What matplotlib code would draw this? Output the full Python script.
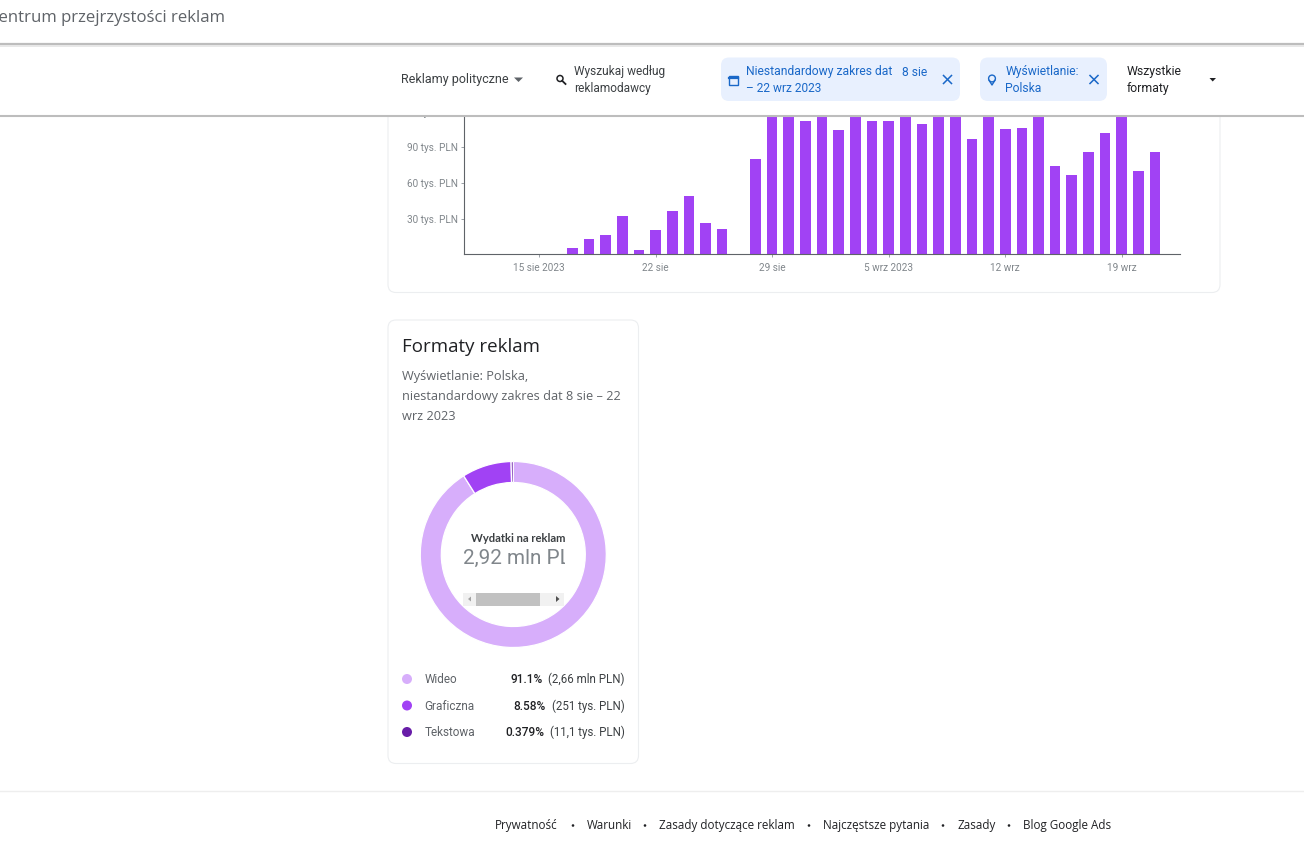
import numpy as np
import matplotlib
matplotlib.use("Agg")
import matplotlib.pyplot as plt
import matplotlib.dates as mdates
from matplotlib.patches import FancyBboxPatch, Rectangle, Circle, Polygon

W, H = 1304, 867
plt.rcParams['font.family'] = ['Roboto', 'DejaVu Sans']

# daily spend, thousand PLN (bars above 116k are hidden under the header, those are guesses)
days = np.arange(np.datetime64('2023-08-15'), np.datetime64('2023-09-23'))
spend = [0, 0, 5.3, 12.9, 16.5, 32.5, 3.6, 20.5, 36.4, 49, 26, 21.3, 0, 80,
         125, 125, 112, 125, 104.5, 125, 112, 112, 125, 109.2, 125, 125,
         96.9, 125, 105, 105.9, 125, 73.9, 66.4, 85.7, 101.6, 125, 69.8, 86.3, 0]
y_ticks = [30, 60, 90]
y_labels = ['30 tys. PLN', '60 tys. PLN', '90 tys. PLN']
x_tick_days = ['2023-08-15', '2023-08-22', '2023-08-29', '2023-09-05', '2023-09-12', '2023-09-19']
x_labels = ['15 sie 2023', '22 sie', '29 sie', '5 wrz 2023', '12 wrz', '19 wrz']

formats = ['Wideo', 'Graficzna', 'Tekstowa']
shares = [91.1, 8.58, 0.379]
share_labels = ['91.1%', '8.58%', '0.379%']
amounts = ['(2,66 mln PLN)', '(251 tys. PLN)', '(11,1 tys. PLN)']
colors = ['#d7aefb', '#a142f4', '#681da8']

footer = ['Prywatność', 'Warunki', 'Zasady dotyczące reklam', 'Najczęstsze pytania', 'Zasady', 'Blog Google Ads']
footer_x = [495, 587, 659, 823, 957, 1023]
footer_dots = [573, 645, 809, 943, 1009]

GREY = '#80868b'
TEXT = '#3c4043'
BLUE = '#1a68c8'
HEAD = 'Open Sans'


def box(l, t, r, b):
    return [l / W, 1 - b / H, (r - l) / W, (b - t) / H]


def pixel_axes(z):
    a = fig.add_axes([0, 0, 1, 1], zorder=z)
    a.set_xlim(0, W)
    a.set_ylim(H, 0)
    a.axis('off')
    a.patch.set_alpha(0)
    return a


def rounded(a, l, t, r, b, rad, fc, ec='none', lw=0.8):
    a.add_patch(FancyBboxPatch((l + rad, t + rad), r - l - 2 * rad, b - t - 2 * rad,
                               boxstyle=f'round,pad={rad},rounding_size={rad}',
                               fc=fc, ec=ec, lw=lw))


fig = plt.figure(figsize=(W / 100, H / 100), dpi=100, facecolor='white')

# page content under the header
page = pixel_axes(0)
rounded(page, 388, 90, 1220, 292.5, 8, 'white', '#eceef0')
rounded(page, 388, 320, 638.5, 763.5, 8, 'white', '#eceef0')
page.plot([0, W], [791, 791], color='#eeeeee', lw=1)
page.text(458, 113.5, '120 tys. PLN', ha='right', va='center', fontsize=7.2, color=GREY)

page.text(401.5, 347, 'Formaty reklam', fontsize=13.5, color='#202124', va='center', family=[HEAD, 'DejaVu Sans'])
sub = ['Wyświetlanie: Polska,', 'niestandardowy zakres dat 8 sie – 22', 'wrz 2023']
for i, line in enumerate(sub):
    page.text(401.5, 376.5 + i * 19.8, line, fontsize=9.2, color='#5f6368', va='center', family=[HEAD, 'DejaVu Sans'])

# bars
ax = fig.add_axes(box(464, 116, 1179.8, 254.3), zorder=1)
ax.bar(days, spend, width=0.64, color='#a142f4')
d0 = mdates.date2num(np.datetime64('2023-08-15'))
ax.set_xlim(d0 - 75 / 16.65, d0 + 640.8 / 16.65)
ax.set_ylim(0, 116.2)
ax.set_yticks(y_ticks, y_labels)
ax.set_xticks([mdates.date2num(np.datetime64(d)) for d in x_tick_days], x_labels)
ax.tick_params(axis='y', length=2.5, width=0.7, color='#9aa0a6', labelsize=7.2, labelcolor=GREY, pad=2)
ax.tick_params(axis='x', length=2, width=0.7, color='#9aa0a6', labelsize=7.2, labelcolor=GREY, pad=4.5)
for s in ['top', 'right']:
    ax.spines[s].set_visible(False)
for s in ['left', 'bottom']:
    ax.spines[s].set_color('#5f6368')
    ax.spines[s].set_linewidth(0.8)

# donut
dax = fig.add_axes(box(513.3 - 93, 554.5 - 93, 513.3 + 93, 554.5 + 93), zorder=1)
dax.pie(shares, colors=colors, startangle=90, counterclock=False, radius=1,
        wedgeprops=dict(width=21 / 93, edgecolor='white', linewidth=0.9))
dax.set_xlim(-1, 1)
dax.set_ylim(-1, 1)

over = pixel_axes(2)
clip = Rectangle((440, 520), 125, 60, transform=over.transData)
t1 = over.text(471, 538, 'Wydatki na reklamy', fontsize=8.1, fontweight='bold', color=TEXT,
               va='center', family=['Lato', 'DejaVu Sans'])
t2 = over.text(463, 558.8, '2,92 mln PLN', fontsize=14.9, color=GREY, va='center')
t1.set_clip_path(clip)
t2.set_clip_path(clip)
t1.set_clip_on(True)
t2.set_clip_on(True)
over.add_patch(Rectangle((463, 592.5), 101, 13, fc='#f1f1f1', ec='none'))
over.add_patch(Rectangle((476, 592.5), 64, 13, fc='#c1c1c1', ec='none'))
over.add_patch(Polygon([[471, 596.5], [471, 601.5], [468, 599]], fc='#a3a3a3', ec='none'))
over.add_patch(Polygon([[556, 596], [556, 602], [559.5, 599]], fc='#505050', ec='none'))

# legend rows
row_y = [679, 705.5, 732]
pct_right = [542.5, 545.5, 544]
for name, c, pct, amt, y, pr in zip(formats, colors, share_labels, amounts, row_y, pct_right):
    over.add_patch(Circle((407, y), 5, fc=c, ec='none'))
    over.text(424.5, y + 0.6, name, fontsize=8.5, color='#5f6368', va='center')
    over.text(pr, y + 0.6, pct, fontsize=8.6, color='#202124', va='center', ha='right', fontweight='medium')
    over.text(625, y + 0.6, amt, fontsize=8.3, color=TEXT, va='center', ha='right')

# footer
for label, x in zip(footer, footer_x):
    over.text(x, 825.5, label, fontsize=8.4, color='#202124', va='center', family=[HEAD, 'DejaVu Sans'])
for x in footer_dots:
    over.add_patch(Circle((x, 825.5), 1.3, fc='#202124', ec='none'))

# header bars
top = pixel_axes(3)
top.add_patch(Rectangle((0, 0), W, 43, fc='white', ec='none'))
top.add_patch(Rectangle((0, 43), W, 73, fc='white', ec='none'))
for y, lw, c in [(44, 1.6, '#bdbdbd'), (45.8, 1.2, '#e4e4e4'), (115.6, 1.5, '#bdbdbd')]:
    top.plot([0, W], [y, y], color=c, lw=lw, solid_capstyle='butt')
top.text(-12, 18, 'Centrum przejrzystości reklam', fontsize=12.05, color='#5f6368', va='center',
         family=[HEAD, 'DejaVu Sans'], clip_on=True)

top.text(401, 80, 'Reklamy polityczne', fontsize=9.0, color=TEXT, va='center')
top.add_patch(Polygon([[514, 77.5], [523, 77.5], [518.5, 82]], fc='#5f6368', ec='none'))

# search icon
top.add_patch(Circle((560, 78.5), 3, fc='none', ec='#202124', lw=1.1))
top.plot([562.2, 565.5], [80.8, 84], color='#202124', lw=1.3)
top.text(574, 72, 'Wyszukaj według', fontsize=8.6, color=TEXT, va='center')
top.text(574, 88.5, 'reklamodawcy', fontsize=8.6, color=TEXT, va='center')

# date chip
rounded(top, 721, 57.5, 960, 101, 8, '#e8f0fe')
top.add_patch(Rectangle((729, 76), 9, 9, fc='none', ec=BLUE, lw=1))
top.plot([729, 738], [77.5, 77.5], color=BLUE, lw=1.6)
top.text(746, 72, 'Niestandardowy zakres dat', fontsize=8.7, color=BLUE, va='center')
top.text(902, 72, '8 sie', fontsize=8.7, color=BLUE, va='center')
top.text(746, 88.5, '– 22 wrz 2023', fontsize=8.6, color=BLUE, va='center')

# location chip
rounded(top, 980, 57.5, 1107, 101, 8, '#e8f0fe')
top.add_patch(Circle((992, 78.5), 3.4, fc='none', ec=BLUE, lw=1))
top.plot([989.2, 992, 994.8], [80.5, 85, 80.5], color=BLUE, lw=1)
top.text(1005.5, 72, 'Wyświetlanie:', fontsize=8.7, color=BLUE, va='center')
top.text(1005.5, 88.5, 'Polska', fontsize=8.7, color=BLUE, va='center')

for cx in [947.5, 1094]:
    top.plot([cx - 4, cx + 4], [75.5, 83.5], color=BLUE, lw=1.1)
    top.plot([cx - 4, cx + 4], [83.5, 75.5], color=BLUE, lw=1.1)

top.text(1127, 72, 'Wszystkie', fontsize=8.8, color='#202124', va='center')
top.text(1127, 88.5, 'formaty', fontsize=8.8, color='#202124', va='center')
top.add_patch(Polygon([[1209.5, 78], [1216, 78], [1212.7, 81.5]], fc='#202124', ec='none'))

fig.savefig('out.png', dpi=100)
